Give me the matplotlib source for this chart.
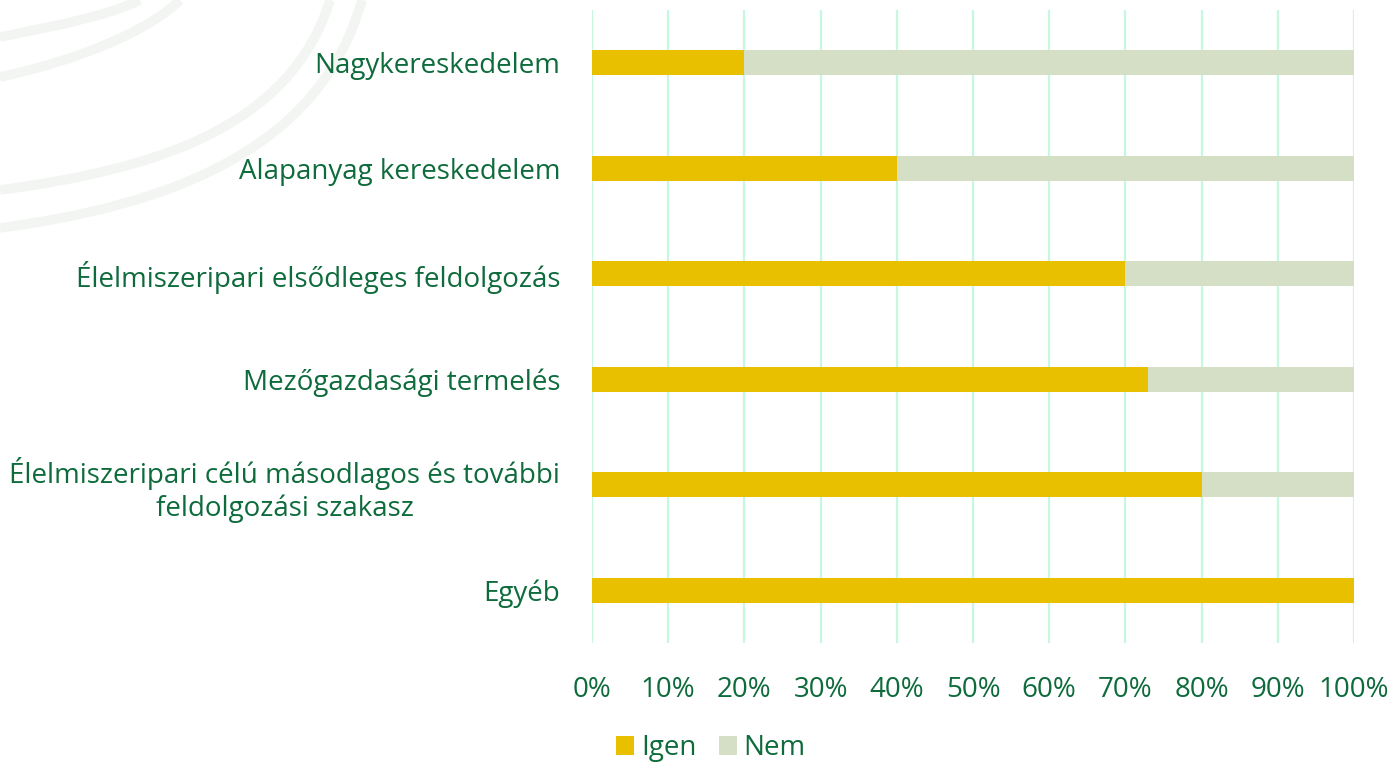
import matplotlib
matplotlib.use("Agg")
import matplotlib.pyplot as plt
import numpy as np
from matplotlib.path import Path
from matplotlib.patches import PathPatch

categories = [
    "Nagykereskedelem",
    "Alapanyag kereskedelem",
    "Élelmiszeripari elsődleges feldolgozás",
    "Mezőgazdasági termelés",
    "Élelmiszeripari célú másodlagos és további\nfeldolgozási szakasz",
    "Egyéb",
]
igen = [20, 40, 70, 73, 80, 100]
nem = [80, 60, 30, 27, 20, 0]
xticks = [0, 10, 20, 30, 40, 50, 60, 70, 80, 90, 100]
xticklabels = [f"{v}%" for v in xticks]

GREEN = "#0E6B3B"
YELLOW = "#E8C000"
LIGHT = "#D4DFC6"
GRID = "#C8F7E0"

plt.rcParams['font.family'] = ['Open Sans', 'DejaVu Sans']

W, H = 1394, 763
fig = plt.figure(figsize=(W / 100, H / 100), dpi=100)

# decorative faint background curves (figure pixel coords)
bg = fig.add_axes([0, 0, 1, 1], zorder=-10)
bg.set_xlim(0, W)
bg.set_ylim(H, 0)
bg.axis('off')
curves = [
    [(0, 37), (60, 25), (110, 15), (140, 0)],
    [(0, 77), (80, 60), (150, 30), (180, 0)],
    [(0, 190), (150, 170), (290, 130), (330, 0)],
    [(0, 228), (170, 205), (320, 150), (362, 0)],
]
for pts in curves:
    path = Path(pts, [Path.MOVETO, Path.CURVE4, Path.CURVE4, Path.CURVE4])
    bg.add_patch(PathPatch(path, fill=False, edgecolor="#F3F5F3", lw=7))

ax = fig.add_axes([592 / W, 1 - 643 / H, (1354 - 592) / W, (643 - 10) / H])
y = np.arange(len(categories))
ax.barh(y, igen, height=0.24, color=YELLOW, label="Igen", zorder=3)
ax.barh(y, nem, left=igen, height=0.24, color=LIGHT, label="Nem", zorder=3)

ax.set_xlim(0, 100)
ax.set_ylim(len(categories) - 0.5, -0.5)
ax.set_xticks(xticks)
ax.set_xticklabels(xticklabels, fontsize=20, color=GREEN)
ax.set_yticks(y)
ax.set_yticklabels(categories, fontsize=20, color=GREEN, multialignment='center')
ax.tick_params(axis='both', length=0)
ax.tick_params(axis='x', pad=24)
ax.tick_params(axis='y', pad=23)
ax.grid(axis='x', color=GRID, lw=1.6, zorder=0)
ax.set_axisbelow(True)
for s in ax.spines.values():
    s.set_visible(False)

leg = fig.legend(loc='center', bbox_to_anchor=(711 / W, 1 - 748 / H), ncol=2,
                 frameon=False, fontsize=20, handlelength=0.65, handleheight=0.65,
                 handletextpad=0.25, columnspacing=0.8)
for t in leg.get_texts():
    t.set_color(GREEN)

fig.savefig("out.png", dpi=100)
